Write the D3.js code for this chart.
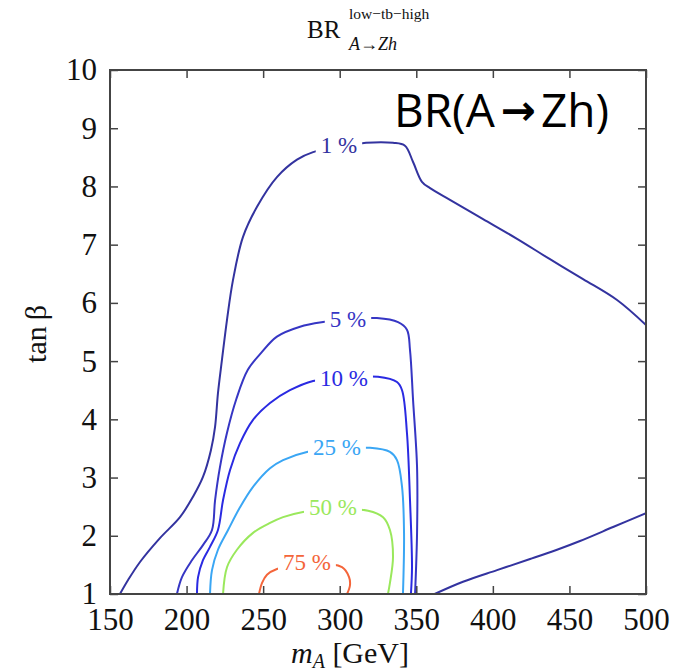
<!DOCTYPE html>
<html>
<head>
<meta charset="utf-8">
<title>BR A to Zh</title>
<script src="https://d3js.org/d3.v7.min.js"></script>
<style>
  body { margin: 0; background: #fff; }
  svg text { font-family: "Liberation Serif", "DejaVu Serif", serif; }
</style>
</head>
<body>
<script>
// tick labels
var xTicks = [150, 200, 250, 300, 350, 400, 450, 500];
var yTicks = [1, 2, 3, 4, 5, 6, 7, 8, 9, 10];

// contour lines, [m_A, tan beta]
var c1Left = [[156.5,1.00],[161.8,1.24],[169.6,1.55],[182.6,1.96],[195.7,2.32],[204.2,2.67],[210.7,3.01],
  [215.9,3.47],[218.6,3.87],[220.5,4.45],[223.1,5.02],[226.4,5.71],[230.3,6.39],[236.8,7.13],[246.0,7.65],
  [259.0,8.16],[272.1,8.46],[282.6,8.59],[300.2,8.68],[317.2,8.75],[334.8,8.75],[342.6,8.70],[347.9,8.42],
  [353.7,8.08],[359.0,7.97],[372.0,7.77],[393.6,7.44],[415.8,7.10],[437.3,6.75],[458.9,6.41],[481.1,6.05],[500,5.62]];
var c1Right = [[362,1.0],[380.5,1.21],[402.7,1.41],[424.3,1.60],[441.9,1.76],[456.9,1.91],[478.5,2.15],[500,2.39]];
var c5 = [[193.7,1.0],[197.0,1.29],[203.5,1.58],[210.7,1.84],[216.6,2.10],[218.6,2.61],[221.8,3.18],[226.4,3.77],
  [232.5,4.35],[240.0,4.85],[248.7,5.14],[259.0,5.42],[274.1,5.59],[289.1,5.67],[306.7,5.72],[324.3,5.74],
  [338.1,5.67],[343.9,5.54],[345.9,5.19],[347.9,4.33],[350.5,3.18],[350.5,2.05],[349.2,1.0]];
var c10 = [[206.8,1.0],[207.5,1.29],[210.7,1.58],[215.3,1.81],[220.5,2.10],[223.8,2.61],[228.4,3.13],[234.9,3.59],
  [243.4,3.99],[254.5,4.28],[267.5,4.50],[282.6,4.66],[303.5,4.71],[325.0,4.73],[337.4,4.64],[340.7,4.50],
  [343.9,3.77],[345.9,2.61],[347.2,1.46],[346.5,1.0]];
var c25 = [[215.3,1.0],[216.6,1.41],[220.5,1.76],[227.1,2.10],[234.9,2.49],[243.4,2.84],[254.5,3.16],[263.0,3.30],
  [278.6,3.44],[296.9,3.49],[319.8,3.51],[332.8,3.44],[337.4,3.30],[340.7,2.84],[342.0,2.05],[341.3,1.0]];
var c50 = [[223.8,1.0],[226.4,1.46],[232.9,1.76],[243.4,2.05],[254.5,2.22],[263.0,2.32],[276.0,2.41],[296.9,2.46],
  [318.5,2.43],[328.3,2.32],[332.8,2.10],[334.8,1.64],[332.8,1.19],[331.5,1.0]];
var c75 = [[247.3,1.0],[249.3,1.19],[252.5,1.33],[259.0,1.43],[279.3,1.52],[301.5,1.46],[306.1,1.29],[306.7,1.15],[304.8,1.0]];

var contours = [
  {name: "1 %", lines: [c1Left, c1Right], color: "#33339f", at: [299.5, 8.70]},
  {name: "5 %", lines: [c5], color: "#3636c4", at: [305.4, 5.72]},
  {name: "10 %", lines: [c10], color: "#2a2ae2", at: [302.8, 4.71]},
  {name: "25 %", lines: [c25], color: "#3aa6f4", at: [298.2, 3.51]},
  {name: "50 %", lines: [c50], color: "#9ae85c", at: [295.6, 2.48]},
  {name: "75 %", lines: [c75], color: "#f4653a", at: [278.6, 1.55]}
];

var w = 673, h = 671;
var pLeft = 110, pRight = 646, pTop = 70, pBottom = 594;

var svg = d3.select("body").append("svg")
  .attr("width", w)
  .attr("height", h);

var x = d3.scaleLinear().domain([150, 500]).range([pLeft, pRight]);
var y = d3.scaleLinear().domain([1, 10]).range([pBottom, pTop]);

var line = d3.line()
  .x(function(d) { return x(d[0]); })
  .y(function(d) { return y(d[1]); })
  .curve(d3.curveCatmullRom.alpha(0.5));

var plot = svg.append("g");
plot.append("clipPath").attr("id", "clip")
  .append("rect").attr("x", pLeft).attr("y", pTop).attr("width", pRight - pLeft).attr("height", pBottom - pTop);

contours.forEach(function(c) {
  c.lines.forEach(function(pts) {
    plot.append("path")
      .attr("d", line(pts))
      .attr("clip-path", "url(#clip)")
      .attr("fill", "none")
      .attr("stroke", c.color)
      .attr("stroke-width", 2);
  });
});

// labels sitting in gaps of the lines
contours.forEach(function(c) {
  var g = plot.append("g");
  var t = g.append("text")
    .attr("x", x(c.at[0]))
    .attr("y", y(c.at[1]))
    .attr("text-anchor", "middle")
    .attr("dy", "0.33em")
    .attr("font-size", "23px")
    .attr("fill", c.color)
    .text(c.name);
  var b = t.node().getBBox();
  g.insert("rect", "text")
    .attr("x", b.x - 5).attr("y", b.y + 3)
    .attr("width", b.width + 10).attr("height", b.height - 6)
    .attr("fill", "#fff");
});

// axes: ticks pointing inward on all four sides
var axisColor = "#444";
svg.append("g")
  .attr("transform", "translate(0," + pBottom + ")")
  .call(d3.axisBottom(x).tickValues(xTicks).tickSize(-8).tickPadding(14).tickFormat(d3.format("d")))
  .call(function(g) {
    g.select(".domain").remove();
    g.selectAll("line").attr("stroke", axisColor).attr("stroke-width", 1.5);
    g.selectAll("text").attr("font-size", "31px").attr("fill", "#111");
  });
svg.append("g")
  .attr("transform", "translate(0," + pTop + ")")
  .call(d3.axisTop(x).tickValues(xTicks).tickSize(-8).tickFormat(""))
  .call(function(g) {
    g.select(".domain").remove();
    g.selectAll("line").attr("stroke", axisColor).attr("stroke-width", 1.5);
  });
svg.append("g")
  .attr("transform", "translate(" + pLeft + ",0)")
  .call(d3.axisLeft(y).tickValues(yTicks).tickSize(-8).tickPadding(13).tickFormat(d3.format("d")))
  .call(function(g) {
    g.select(".domain").remove();
    g.selectAll("line").attr("stroke", axisColor).attr("stroke-width", 1.5);
    g.selectAll("text").attr("font-size", "31px").attr("fill", "#111");
  });
svg.append("g")
  .attr("transform", "translate(" + pRight + ",0)")
  .call(d3.axisRight(y).tickValues(yTicks).tickSize(-8).tickFormat(""))
  .call(function(g) {
    g.select(".domain").remove();
    g.selectAll("line").attr("stroke", axisColor).attr("stroke-width", 1.5);
  });

svg.append("rect")
  .attr("x", pLeft).attr("y", pTop)
  .attr("width", pRight - pLeft).attr("height", pBottom - pTop)
  .attr("fill", "none")
  .attr("stroke", axisColor)
  .attr("stroke-width", 2);

// axis titles
var xt = svg.append("text")
  .attr("x", 350).attr("y", 663)
  .attr("text-anchor", "middle")
  .attr("font-size", "30px")
  .attr("fill", "#111");
xt.append("tspan").attr("font-style", "italic").text("m");
xt.append("tspan").attr("font-style", "italic").attr("font-size", "20px").attr("dy", 5).text("A");
xt.append("tspan").attr("dy", -5).text(" [GeV]");

svg.append("text")
  .attr("transform", "translate(46,334) rotate(-90)")
  .attr("text-anchor", "middle")
  .attr("font-size", "30px")
  .attr("fill", "#111")
  .text("tan\u2009\u03b2");

// title above the frame
svg.append("text").attr("x", 307).attr("y", 38).attr("font-size", "25px").attr("fill", "#111").text("BR");
svg.append("text").attr("x", 349).attr("y", 19).attr("font-size", "15.5px").attr("fill", "#111")
  .text("low\u2212tb\u2212high");
svg.append("text").attr("x", 349).attr("y", 50).attr("font-size", "18px").attr("font-style", "italic")
  .attr("fill", "#111").text("A\u2192Zh");

// big label inside the plot
var big = svg.append("text")
  .attr("x", 394).attr("y", 127)
  .style("font-family", "'Open Sans', 'Noto Sans', sans-serif")
  .attr("font-size", "46px")
  .attr("fill", "#000");
big.append("tspan").text("BR(A");
big.append("tspan").style("font-family", "'DejaVu Sans', sans-serif").attr("font-weight", "bold")
  .attr("font-size", "42px").attr("dx", 6).attr("dy", -2).text("\u2192");
big.append("tspan").attr("dx", 5).attr("dy", 2).text("Zh)");
</script>
</body>
</html>
